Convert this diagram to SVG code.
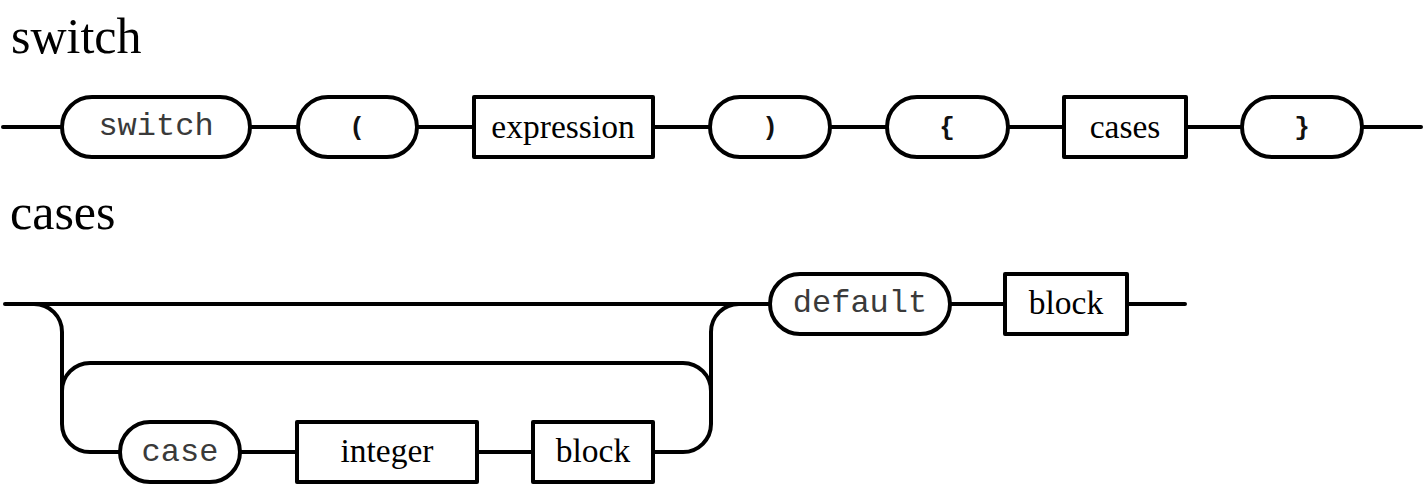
<svg xmlns="http://www.w3.org/2000/svg" width="1423" height="485" viewBox="0 0 1423 485">
<style>
.t{font-family:"Liberation Serif","Times New Roman",serif;font-size:50px;fill:#000}
.c{fill:none;stroke:#000;stroke-width:4;stroke-linecap:round;stroke-linejoin:round}
.term{fill:#fff;stroke:#000;stroke-width:4}
.nt{fill:#fff;stroke:#000;stroke-width:4;stroke-linejoin:round}
.mono{font-family:"Liberation Mono","Courier New",monospace;font-size:32px;fill:#3a3a3a;text-anchor:middle}
.br{font-family:"Liberation Mono","Courier New",monospace;font-size:26px;font-weight:bold;fill:#111;text-anchor:middle}
.ser{font-family:"Liberation Serif","Times New Roman",serif;font-size:33.5px;fill:#000;text-anchor:middle}
</style>
<rect width="1423" height="485" fill="#fff"/>
<text class="t" x="11" y="53">switch</text>
<text class="t" x="10" y="229">cases</text>
<g id="connectors">
<path class="c" d="M3,127 H1421"/>
<path class="c" d="M5,304 H770"/>
<path class="c" d="M34,304 A28,28 0 0 1 62,332 V424 A28,28 0 0 0 90,452 H120"/>
<path class="c" d="M62,391 A28,28 0 0 1 90,363 H683 A28,28 0 0 1 711,391"/>
<path class="c" d="M240,452 H297 M477,452 H533"/>
<path class="c" d="M653,452 H683 A28,28 0 0 0 711,424 V332 A28,28 0 0 1 739,304"/>
<path class="c" d="M950,304 H1005 M1127,304 H1185"/>
</g>
<g id="n-switch"><rect class="term" x="62" y="97" width="188" height="60" rx="30"/><text class="mono" x="156" y="135">switch</text></g>
<g id="n-lparen"><rect class="term" x="298" y="97" width="119" height="60" rx="30"/><text class="br" x="357" y="135">(</text></g>
<g id="n-expression"><rect class="nt" x="474" y="97" width="179" height="60"/><text class="ser" x="563" y="138">expression</text></g>
<g id="n-rparen"><rect class="term" x="710" y="97" width="120" height="60" rx="30"/><text class="br" x="770" y="135">)</text></g>
<g id="n-lbrace"><rect class="term" x="887" y="97" width="121" height="60" rx="30"/><text class="br" x="947" y="135">{</text></g>
<g id="n-cases"><rect class="nt" x="1064" y="97" width="122" height="60"/><text class="ser" x="1125" y="138">cases</text></g>
<g id="n-rbrace"><rect class="term" x="1242" y="97" width="120" height="60" rx="30"/><text class="br" x="1302" y="135">}</text></g>
<g id="n-case"><rect class="term" x="120" y="422" width="120" height="60" rx="30"/><text class="mono" x="180" y="461">case</text></g>
<g id="n-integer"><rect class="nt" x="297" y="422" width="180" height="60"/><text class="ser" x="387" y="462">integer</text></g>
<g id="n-block1"><rect class="nt" x="533" y="422" width="120" height="60"/><text class="ser" x="593" y="462">block</text></g>
<g id="n-default"><rect class="term" x="770" y="274" width="180" height="60" rx="30"/><text class="mono" x="860" y="312">default</text></g>
<g id="n-block2"><rect class="nt" x="1005" y="274" width="122" height="60"/><text class="ser" x="1066" y="314">block</text></g>
</svg>
